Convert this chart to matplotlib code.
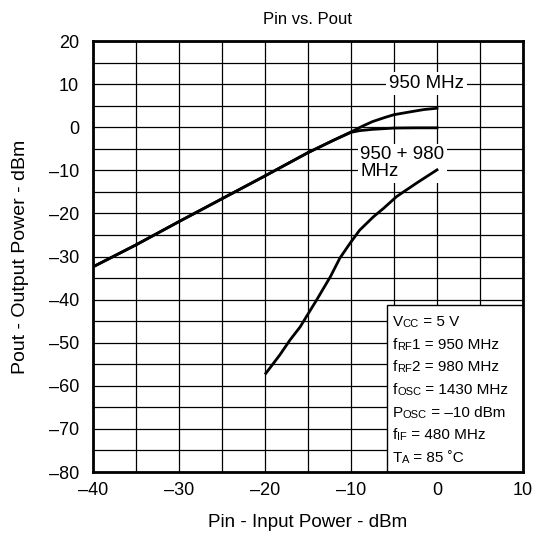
import matplotlib.pyplot as plt

plt.rcParams["font.family"] = ["Liberation Sans", "DejaVu Sans"]

# 950 MHz single tone
pin_950 = [-40, -35, -30, -25, -20, -15, -12, -10, -8.5, -7.5, -6, -5, -3, -1.5, 0]
pout_950 = [-32.4, -27.3, -21.9, -16.6, -11.3, -5.9, -3.0, -1.1, 0.4, 1.3, 2.3, 2.9, 3.6, 4.1, 4.4]

# 950 + 980 MHz two tone, fundamental
pin_two = [-40, -35, -30, -25, -20, -15, -12, -10, -9, -7.5, -5, -2.5, 0]
pout_two = [-32.4, -27.3, -21.9, -16.6, -11.3, -5.9, -3.0, -1.2, -0.8, -0.5, -0.2, -0.15, -0.15]

# 950 + 980 MHz two tone, lower curve
pin_im = [-19.9, -18.3, -17.1, -15.9, -15.2, -14.0, -12.4, -11.3, -10.1, -9.0, -7.4, -6.2, -4.7, -2.4, 0]
pout_im = [-57.1, -52.9, -49.4, -46.3, -44.0, -40.1, -34.7, -30.4, -26.9, -23.9, -20.8, -18.8, -16.1, -13.0, -9.9]

x_ticks = [-40, -30, -20, -10, 0, 10]
y_ticks = [20, 10, 0, -10, -20, -30, -40, -50, -60, -70, -80]

cond_lines = [
    [("V", 0), ("CC", 1), (" = 5 V", 0)],
    [("f", 0), ("RF", 1), ("1 = 950 MHz", 0)],
    [("f", 0), ("RF", 1), ("2 = 980 MHz", 0)],
    [("f", 0), ("OSC", 1), (" = 1430 MHz", 0)],
    [("P", 0), ("OSC", 1), (" = \u201310 dBm", 0)],
    [("f", 0), ("IF", 1), (" = 480 MHz", 0)],
    [("T", 0), ("A", 1), (" = 85 \u02daC", 0)],
]


def fmt(v):
    return str(v).replace("-", "\u2013")


fig = plt.figure(figsize=(5.41, 5.36), dpi=100)
ax = fig.add_axes([0.1719, 0.1194, 0.7948, 0.8041])

ax.plot(pin_950, pout_950, color="black", lw=2, zorder=6)
ax.plot(pin_two, pout_two, color="black", lw=2, zorder=6)
ax.plot(pin_im, pout_im, color="black", lw=2, zorder=6)

ax.set_xlim(-40, 10)
ax.set_ylim(-80, 20)
ax.set_xticks(x_ticks)
ax.set_yticks(y_ticks)
ax.set_xticklabels([fmt(v) for v in x_ticks])
ax.set_yticklabels([fmt(v) for v in y_ticks])
ax.set_xticks(range(-35, 10, 10), minor=True)
ax.set_yticks(range(-75, 20, 10), minor=True)
ax.tick_params(which="both", length=0, labelsize=13)
ax.tick_params(axis="x", pad=7)
ax.tick_params(axis="y", pad=10)
ax.grid(which="both", color="black", lw=0.9)
ax.set_axisbelow(True)
for s in ax.spines.values():
    s.set_linewidth(2)
    s.set_zorder(7)

ax.set_title("Pin vs. Pout", fontsize=12, pad=12)
ax.set_xlabel("Pin - Input Power - dBm", fontsize=13.5, labelpad=11)
ax.set_ylabel("Pout - Output Power - dBm", fontsize=14, labelpad=14)

ax.text(-1.2, 10.1, "950 MHz", fontsize=13.5, ha="center", va="center",
        bbox=dict(facecolor="white", edgecolor="none", pad=2), zorder=4)
ax.text(-8.9, -8.4, "950 + 980\nMHz", fontsize=13.5, ha="left", va="center",
        linespacing=1.0,
        bbox=dict(facecolor="white", edgecolor="none", pad=2), zorder=4)

# conditions box
box = plt.Rectangle((0.684, 0), 0.316, 0.387, transform=ax.transAxes,
                    facecolor="white", edgecolor="black", lw=1, zorder=4)
ax.add_patch(box)

y0 = 0.332
step = 0.0527
for i, parts in enumerate(cond_lines):
    prev = None
    for txt, small in parts:
        size = 8 if small else 11
        if prev is None:
            prev = ax.text(0.697, y0 - i * step, txt, fontsize=size,
                           transform=ax.transAxes, ha="left", va="bottom",
                           zorder=5)
        else:
            prev = ax.annotate(txt, xy=(1, 0), xycoords=prev, fontsize=size,
                               ha="left", va="bottom", zorder=5)

fig.savefig("out.png", dpi=100)
